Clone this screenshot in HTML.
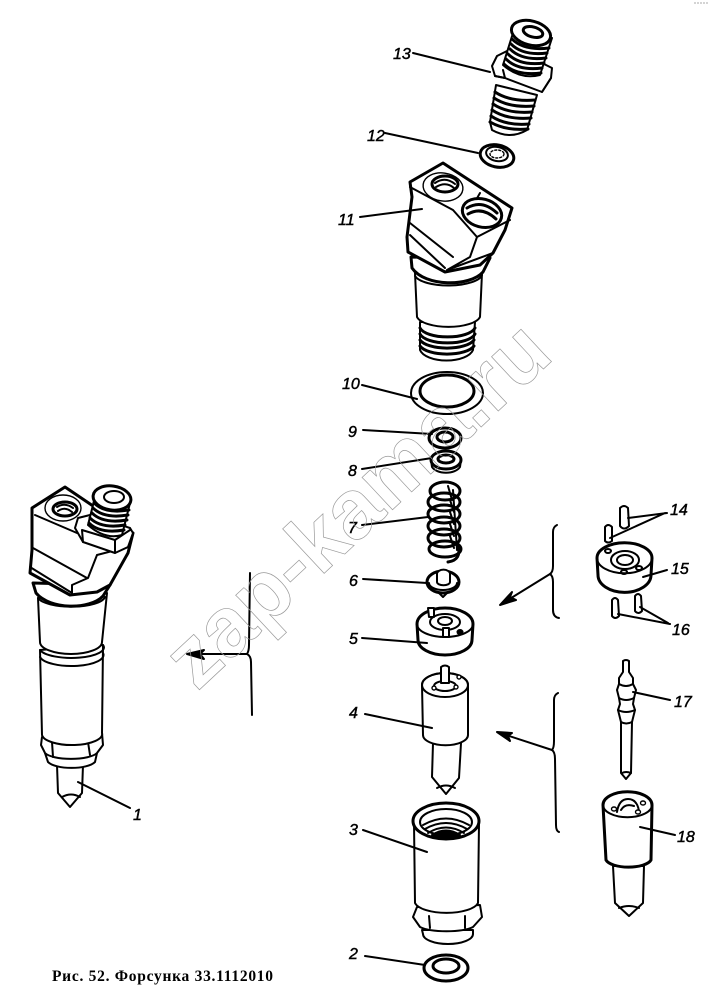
<!DOCTYPE html>
<html><head><meta charset="utf-8"><style>
html,body{margin:0;padding:0;background:#fff}
svg{display:block}
.l{font:italic 16px "Liberation Sans",sans-serif;fill:#000;stroke:#000;stroke-width:.45}
g.d path,g.d ellipse,g.d polygon,g.d line{stroke:#000;stroke-width:2;stroke-linecap:round;stroke-linejoin:round}
.n{fill:none}.w{fill:#fff}
g.d .t{stroke-width:3}.b{stroke-width:1.4 !important}
</style></head><body>
<svg width="718" height="1001" viewBox="0 0 718 1001" xmlns="http://www.w3.org/2000/svg">
<rect width="718" height="1001" fill="#fff"/>
<g class="d">
<!-- 13 -->
<path class="w" d="M492,66 L497,56 L507,51 L540,62 L552,68 L551,78 L542,92 L505,78 L495,76Z"/>
<path class="n" d="M505,78 L503,70M495,76 L505,78M542,92 L551,78"/>
<path class="w" d="M513,33 L503,65 Q520,80 540,75 L552,38Z"/>
<ellipse class="w t" cx="531" cy="33" rx="20" ry="12" transform="rotate(15 531 33)"/>
<ellipse class="n t" cx="533" cy="32" rx="10" ry="5" transform="rotate(15 533 32)"/>
<path class="n t" d="M512,39 Q524,51 549,48M511,44 Q523,56 547,53M510,49 Q522,61 546,58M508,54 Q520,66 544,63M506,59 Q518,71 542,68M504,64 Q516,76 541,73"/>
<path class="w" d="M496,85 L490,122 L492,130 Q510,140 527,130 L537,95Z"/>
<path class="n t" d="M495,92 Q510,102 535,100M494,98 Q509,108 534,106M493,104 Q508,114 532,112M492,110 Q507,120 531,118M491,116 Q506,126 529,124M490,122 Q506,131 528,129"/>
<path class="n" d="M413,53 L490,72"/>
<!-- 12 -->
<ellipse class="w t" cx="497" cy="156" rx="17" ry="11" transform="rotate(12 497 156)"/>
<ellipse class="n" cx="497" cy="154" rx="11" ry="7" transform="rotate(12 497 154)"/>
<ellipse class="n b" cx="497" cy="154" rx="7" ry="4" stroke-dasharray="2 2"/>
<path class="n" d="M385,133 L478,153"/>
<!-- 11 -->
<path class="w" d="M420,322 L420,350 A27,13 0 0 0 473,350 L475,322Z"/>
<path class="n t" d="M420,328 A28,11 0 0 0 475,328M420,334 A28,11 0 0 0 475,334M420,340 A28,11 0 0 0 474,340M420,346 A28,11 0 0 0 474,346"/>
<path class="w" d="M415,273 L417,317 A32,12 0 0 0 480,317 L482,273Z"/>
<path class="w t" d="M411,257 L412,268 C425,287 470,287 483,272 L490,258Z"/>
<path class="n" d="M415,276 A34,12 0 0 0 482,275"/>
<path class="w t" d="M410,182 L443,163 L512,208 L505,230 L493,253 L480,265 L445,272 L408,252 L407,237 L412,197Z"/>
<path class="n" d="M410,187 L453,210 L477,237 L470,257 L447,270M477,237 L510,220M410,223 L453,257M410,235 L445,268M447,270 L493,253M480,193 L472,207"/>
<ellipse class="w b" cx="443" cy="187" rx="20" ry="14" transform="rotate(8 443 187)"/>
<ellipse class="n t" cx="445" cy="184" rx="13" ry="8"/>
<path class="n" d="M435,183 Q445,176 455,184M436,187 Q446,181 454,188"/>
<ellipse class="w t" cx="482" cy="213" rx="20" ry="14" transform="rotate(15 482 213)"/>
<path class="n t" d="M467,208 Q482,199 497,213M468,214 Q482,206 496,219"/>
<path class="n" d="M360,217 L422,209"/>
<!-- 10 -->
<ellipse class="n" cx="447" cy="393" rx="36" ry="21"/>
<ellipse class="n t" cx="447" cy="391" rx="27" ry="16"/>
<path class="n" d="M362,385 L417,399"/>
<!-- 9 -->
<ellipse class="w t" cx="445" cy="438" rx="16" ry="10"/>
<ellipse class="n t" cx="445" cy="437" rx="8" ry="5"/>
<path class="n" d="M363,430 L432,434"/>
<!-- 8 -->
<path class="w" d="M431,460 L432,467 A15,9 0 0 0 460,467 L461,460Z"/>
<ellipse class="w t" cx="446" cy="460" rx="15" ry="9"/>
<ellipse class="n t" cx="446" cy="459" rx="8" ry="4"/>
<path class="n" d="M362,469 L432,458"/>
<!-- 7 -->
<g fill="none">
<ellipse class="t" cx="445" cy="491" rx="15" ry="9"/>
<ellipse class="t" cx="444" cy="502" rx="16" ry="9"/>
<ellipse class="t" cx="444" cy="514" rx="16" ry="9"/>
<ellipse class="t" cx="444" cy="526" rx="16" ry="9"/>
<ellipse class="t" cx="444" cy="538" rx="16" ry="9"/>
<ellipse class="t" cx="445" cy="549" rx="16" ry="8"/>
<path class="t" d="M458,545 Q462,560 448,562"/>
<path d="M453,490 L457,550M448,486 L452,500M450,500 L454,512M450,512 L454,524M450,524 L454,536M450,536 L454,548"/>
</g>
<path class="n" d="M362,525 L428,517"/>
<!-- 6 -->
<path class="w" d="M436,590 L443,597 L450,590Z"/>
<ellipse class="w t" cx="443" cy="582" rx="16" ry="11"/>
<path class="n" d="M429,583 A14,7 0 0 0 457,583"/>
<path class="w" d="M437,574 L437,582 A6,3 0 0 0 450,582 L450,574 A6,4 0 0 0 437,574Z"/>
<path class="n" d="M363,579 L427,583"/>
<!-- 5 -->
<path class="w t" d="M417,624 L418,640 A27,15 0 0 0 472,640 L473,624 A28,16 0 0 0 417,624Z"/>
<path class="n" d="M417,624 A28,13 0 0 0 473,624"/>
<ellipse class="n" cx="445" cy="622" rx="15" ry="8"/>
<ellipse class="n" cx="445" cy="621" rx="7" ry="4"/>
<path class="w" d="M428,608 L429,617 L434,617 L434,608Z"/>
<path class="w" d="M443,628 L443,637 L449,637 L449,628Z"/>
<ellipse class="n t" cx="460" cy="632" rx="2" ry="1.5"/>
<path class="n" d="M362,638 L427,643"/>
<!-- 4 -->
<path class="w" d="M433,743 L432,777 L446,794 L459,778 L461,743Z"/>
<path class="n" d="M437,788 Q446,783 455,788"/>
<path class="w" d="M422,685 L423,735 A22,10 0 0 0 468,735 L468,685 A23,12 0 0 0 422,685Z"/>
<ellipse class="n" cx="445" cy="685" rx="23" ry="12"/>
<ellipse class="n" cx="445" cy="686" rx="11" ry="5"/>
<path class="w" d="M441,667 L441,683 L449,683 L449,667 Q445,664 441,667Z"/>
<ellipse class="w b" cx="434" cy="688" rx="2" ry="2"/><ellipse class="w b" cx="456" cy="687" rx="2" ry="2"/><ellipse class="w b" cx="459" cy="677" rx="2" ry="2"/>
<path class="n" d="M365,714 L432,728"/>
<!-- 3 -->
<path class="w" d="M422,930 L423,934 A25,10 0 0 0 473,934 L473,930Z"/>
<path class="w" d="M417,907 L413,917 L420,927 A30,8 0 0 0 473,927 L482,917 L480,905Z"/>
<path class="w" d="M414,823 L415,903 A32,12 0 0 0 478,903 L479,823Z"/>
<ellipse class="w t" cx="446" cy="821" rx="33" ry="18"/>
<ellipse class="n" cx="446" cy="822" rx="26" ry="13"/>
<path class="n" d="M423,825 Q446,812 469,825M425,829 Q446,817 467,829M428,833 Q446,822 464,833"/>
<path d="M432,835 Q446,826 460,835 Q446,840 432,835Z" fill="#000"/>
<path class="n" d="M429,916 L430,928M465,916 L465,928"/>
<path class="n" d="M363,830 L427,852"/>
<!-- 2 -->
<ellipse class="w t" cx="446" cy="968" rx="22" ry="13"/>
<ellipse class="n t" cx="446" cy="966" rx="13" ry="7"/>
<path class="n" d="M365,956 L425,965"/>
<!-- 14 -->
<path class="w" d="M620,508 L620,526 Q624,531 629,526 L628,508 Q624,504 620,508Z"/>
<path class="w" d="M605,527 L605,541 Q608,544 612,541 L612,527 Q608,523 605,527Z"/>
<path class="n" d="M667,513 L628,518M665,513 L610,538"/>
<!-- 15 -->
<path class="w t" d="M597,558 L598,575 A26,17 0 0 0 651,575 L652,558 A27,15 0 0 0 597,558Z"/>
<path class="n" d="M597,558 A27,15 0 0 0 652,558"/>
<ellipse class="n" cx="625" cy="560" rx="14" ry="9"/>
<ellipse class="n" cx="625" cy="560" rx="8" ry="5"/>
<ellipse class="n" cx="608" cy="551" rx="3" ry="2"/><ellipse class="n" cx="639" cy="568" rx="3" ry="2"/><ellipse class="n" cx="624" cy="572" rx="3" ry="2"/>
<path class="n" d="M667,570 L643,577"/>
<!-- 16 -->
<path class="w" d="M612,600 L612,616 Q615,620 619,616 L618,600 Q615,596 612,600Z"/>
<path class="w" d="M635,596 L635,611 Q638,615 642,611 L641,596 Q638,592 635,596Z"/>
<path class="n" d="M618,614 L670,624M640,607 L668,623"/>
<!-- 17 -->
<path class="w" d="M623,661 L623,672 L619,678 L619,684 L617,690 L619,698 L620,704 L618,710 L621,722 L621,773 L626,779 L631,773 L632,722 L635,710 L633,704 L634,698 L636,690 L633,684 L633,678 L629,672 L629,661 Q626,659 623,661Z"/>
<path class="n" d="M619,684 Q626,688 633,684M619,698 Q626,702 634,698M618,710 Q626,714 635,710M621,722 Q626,725 632,722M622,773 Q626,771 631,773"/>
<path class="n" d="M633,692 L670,700"/>
<!-- 18 -->
<path class="w" d="M613,866 L615,903 L629,916 L643,903 L644,866Z"/>
<path class="n" d="M619,908 Q629,904 639,908"/>
<path class="w t" d="M603,805 L606,860 A23,9 0 0 0 651,860 L652,805 A24,13 0 0 0 603,805Z"/>
<path class="n" d="M603,805 A24,12 0 0 0 652,805"/>
<path class="n" d="M617,812 Q619,799 628,799 Q637,799 639,811M621,810 Q625,803 634,806"/>
<ellipse class="w b" cx="614" cy="809" rx="2.5" ry="2"/><ellipse class="w b" cx="643" cy="803" rx="2.5" ry="2"/><ellipse class="w b" cx="638" cy="812" rx="2.5" ry="2"/>
<path class="n" d="M640,827 L675,835"/>
<!-- braces -->
<path class="n" d="M557,525 Q553,527 553,532 L553,566 Q553,572 550,574 Q553,576 553,582 L553,610 Q553,617 559,618"/>
<path class="n" d="M550,574 L503,603"/>
<path d="M500,605 L512,592 L510,597 L516,600Z" fill="#000"/>
<path class="n" d="M558,693 Q554,695 554,700 L554,741 Q554,748 552,750 Q555,752 555,759 L556,825 Q556,831 559,832"/>
<path class="n" d="M552,750 L500,733"/>
<path d="M497,732 L512,733 L508,736 L510,741Z" fill="#000"/>
<path class="n" d="M250,573 L249,645 Q249,651 247,654 Q251,656 251,662 L252,715"/>
<path class="n" d="M247,654 L190,654"/>
<path d="M187,654 L204,650 L200,654 L204,659Z" fill="#000"/>
<!-- 1 assembled -->
<path class="w" d="M57,765 L58,793 L70,807 L82,793 L83,765Z"/>
<path class="n" d="M62,797 Q71,792 80,797"/>
<path class="w" d="M45,753 L48,762 A25,9 0 0 0 95,762 L97,753Z"/>
<path class="w" d="M42,737 L41,745 L45,753 A27,8 0 0 0 97,753 L103,745 L102,733Z"/>
<path class="n" d="M52,742 L53,757M88,742 L90,755"/>
<path class="w" d="M40,650 L42,735 A30,11 0 0 0 102,733 L103,645Z"/>
<path class="w" d="M38,598 L40,642 A31,12 0 0 0 102,642 L107,593Z"/>
<path class="n" d="M40,650 A31,10 0 0 0 103,645M40,657 A32,11 0 0 0 103,653"/>
<path class="w t" d="M33,583 L36,593 C50,610 90,610 103,596 L110,585Z"/>
<path class="n" d="M38,598 A34,11 0 0 0 105,597"/>
<path class="w t" d="M32,508 L65,487 L133,533 L128,553 L110,585 L97,592 L70,595 L30,573 L32,550Z"/>
<path class="n" d="M35,515 L77,533M33,548 L87,578M30,567 L72,593M72,585 L88,578 L97,555 M72,593 L72,585M97,555 L128,547"/>
<ellipse class="w b" cx="63" cy="508" rx="18" ry="13"/>
<ellipse class="n t" cx="65" cy="509" rx="12" ry="7"/>
<path class="n" d="M57,507 Q65,502 73,508M58,511 Q65,506 72,512"/>
<path class="w" d="M75,528 L78,518 L90,515 L130,528 L133,533 L128,547 L115,553 L83,542Z"/>
<path class="n" d="M83,542 L82,530 L115,540 L115,553M115,540 L130,530"/>
<path class="w" d="M95,497 L88,525 Q105,540 122,535 L130,503Z"/>
<ellipse class="w t" cx="112" cy="498" rx="19" ry="12" transform="rotate(8 112 498)"/>
<ellipse class="n" cx="114" cy="497" rx="10" ry="6"/>
<path class="n t" d="M94,503 Q105,514 129,510M93,508 Q104,519 128,515M92,513 Q103,524 127,520M90,518 Q101,529 125,525M89,523 Q100,534 124,530"/>
<path class="n" d="M78,782 L130,808"/>
</g>
<!-- labels -->
<text class="l" x="393" y="59">13</text>
<text class="l" x="367" y="141">12</text>
<text class="l" x="338" y="225">11</text>
<text class="l" x="342" y="389">10</text>
<text class="l" x="348" y="437">9</text>
<text class="l" x="348" y="476">8</text>
<text class="l" x="348" y="533">7</text>
<text class="l" x="349" y="586">6</text>
<text class="l" x="349" y="644">5</text>
<text class="l" x="349" y="718">4</text>
<text class="l" x="349" y="835">3</text>
<text class="l" x="349" y="959">2</text>
<text class="l" x="133" y="820">1</text>
<text class="l" x="670" y="515">14</text>
<text class="l" x="671" y="574">15</text>
<text class="l" x="672" y="635">16</text>
<text class="l" x="674" y="707">17</text>
<text class="l" x="677" y="842">18</text>
<!-- watermark -->
<text x="197" y="692" transform="rotate(-43 197 692)" font-family="Liberation Sans, sans-serif" font-weight="bold" font-size="84" fill="none" stroke="#9a9a9a" stroke-width=".7">zap-kama.ru</text>
<text x="52" y="981" font-family="Liberation Serif, serif" font-weight="bold" font-size="15.5" textLength="221" lengthAdjust="spacing" fill="#000">Рис. 52. Форсунка 33.1112010</text>
<path d="M694,3 L708,3" stroke="#aaa" stroke-width="1" stroke-dasharray="2 1"/>
</svg>
</body></html>
